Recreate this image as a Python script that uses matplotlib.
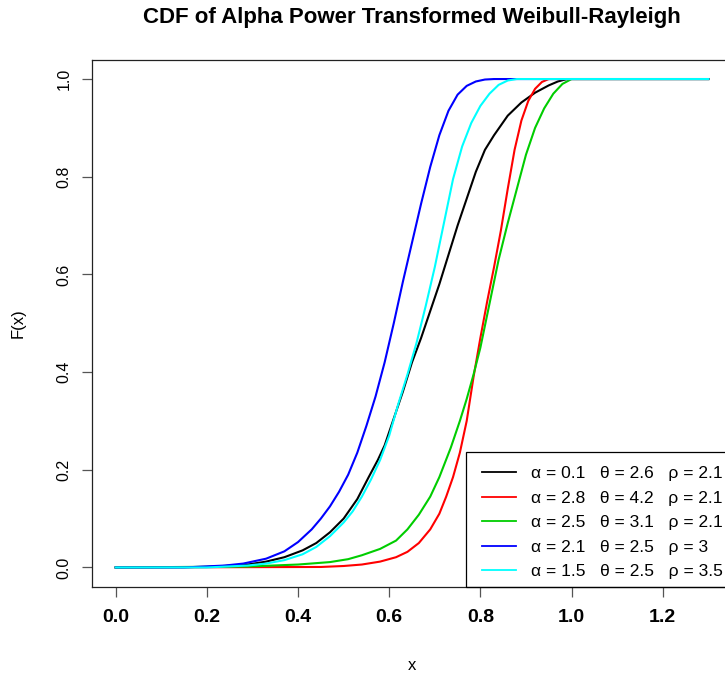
import numpy as np
import matplotlib
matplotlib.use("Agg")
import matplotlib.pyplot as plt
from matplotlib.patches import Rectangle

plt.rcParams['font.family'] = ['Liberation Sans', 'DejaVu Sans']

# values
x_black = [0.0, 0.2, 0.29, 0.33, 0.37, 0.41, 0.44, 0.47, 0.50, 0.53, 0.555, 0.575, 0.59, 0.61, 0.63, 0.65, 0.67, 0.69,
           0.71, 0.73, 0.75, 0.77, 0.79, 0.81, 0.83, 0.86, 0.89, 0.92, 0.95, 0.97, 0.99, 1.3]
f_black = [0.0, 0.001, 0.006, 0.012, 0.021, 0.035, 0.05, 0.072, 0.10, 0.14, 0.185, 0.22, 0.25, 0.305, 0.36, 0.42, 0.47, 0.525,
           0.58, 0.64, 0.70, 0.755, 0.81, 0.855, 0.885, 0.925, 0.952, 0.972, 0.987, 0.995, 1.0, 1.0]

x_red = [0.0, 0.45, 0.50, 0.54, 0.58, 0.615, 0.64, 0.665, 0.69, 0.71, 0.725, 0.74, 0.755, 0.77, 0.785, 0.80, 0.815,
         0.83, 0.845, 0.86, 0.875, 0.89, 0.905, 0.92, 0.935, 0.95, 1.3]
f_red = [0.0, 0.001, 0.003, 0.006, 0.012, 0.021, 0.032, 0.05, 0.078, 0.11, 0.145, 0.185, 0.235, 0.30, 0.39, 0.47, 0.545,
         0.615, 0.69, 0.775, 0.855, 0.915, 0.955, 0.98, 0.994, 1.0, 1.0]

x_green = [0.0, 0.29, 0.40, 0.47, 0.51, 0.54, 0.58, 0.615, 0.64, 0.665, 0.69, 0.71, 0.735, 0.755, 0.77, 0.785, 0.80,
           0.82, 0.84, 0.86, 0.88, 0.90, 0.92, 0.94, 0.96, 0.98, 1.0, 1.3]
f_green = [0.0, 0.002, 0.006, 0.011, 0.017, 0.025, 0.038, 0.055, 0.078, 0.108, 0.145, 0.185, 0.245, 0.30, 0.345, 0.395, 0.45,
           0.54, 0.63, 0.705, 0.775, 0.845, 0.90, 0.94, 0.97, 0.99, 1.0, 1.0]

x_blue = [0.0, 0.15, 0.24, 0.28, 0.33, 0.37, 0.40, 0.43, 0.45, 0.47, 0.49, 0.51, 0.53, 0.55, 0.57, 0.59, 0.61, 0.63,
          0.65, 0.67, 0.69, 0.71, 0.73, 0.75, 0.77, 0.79, 0.81, 0.83, 1.3]
f_blue = [0.0, 0.0, 0.004, 0.008, 0.018, 0.033, 0.052, 0.078, 0.10, 0.125, 0.155, 0.19, 0.235, 0.29, 0.35, 0.42, 0.50, 0.585,
          0.665, 0.745, 0.82, 0.885, 0.935, 0.968, 0.986, 0.995, 0.999, 1.0, 1.0]

x_cyan = [0.0, 0.2, 0.29, 0.33, 0.37, 0.41, 0.44, 0.47, 0.50, 0.52, 0.54, 0.56, 0.58, 0.60, 0.62, 0.64, 0.66, 0.68,
          0.70, 0.72, 0.74, 0.76, 0.78, 0.80, 0.82, 0.84, 0.86, 0.88, 1.3]
f_cyan = [0.0, 0.0, 0.004, 0.008, 0.015, 0.027, 0.042, 0.064, 0.092, 0.115, 0.145, 0.18, 0.22, 0.27, 0.335, 0.395, 0.46, 0.535,
          0.615, 0.705, 0.795, 0.862, 0.91, 0.945, 0.97, 0.988, 0.997, 1.0, 1.0]

labels = [
    "\u03b1 = 0.1   \u03b8 = 2.6   \u03c1 = 2.1",
    "\u03b1 = 2.8   \u03b8 = 4.2   \u03c1 = 2.1",
    "\u03b1 = 2.5   \u03b8 = 3.1   \u03c1 = 2.1",
    "\u03b1 = 2.1   \u03b8 = 2.5   \u03c1 = 3",
    "\u03b1 = 1.5   \u03b8 = 2.5   \u03c1 = 3.5",
]
colors = ['black', 'red', '#00cd00', 'blue', 'cyan']
x_ticks = [0.0, 0.2, 0.4, 0.6, 0.8, 1.0, 1.2]
y_ticks = [0.0, 0.2, 0.4, 0.6, 0.8, 1.0]

W, H = 725, 676
fig = plt.figure(figsize=(W / 100, H / 100), dpi=100)
# axes box runs a little past the right edge, as in the reference
ax = fig.add_axes([92 / W, (H - 587) / H, (732 - 92) / W, (587 - 59.5) / H])

series = [(x_black, f_black), (x_red, f_red), (x_green, f_green), (x_blue, f_blue), (x_cyan, f_cyan)]
for (xs, fs), c, lab in zip(series, colors, labels):
    ax.plot(xs, fs, color=c, lw=1.5, label=lab, solid_joinstyle='round')

ax.set_xlim(-0.052, 1.352)
ax.set_ylim(-0.04, 1.04)
ax.set_xticks(x_ticks)
ax.set_xticklabels([f"{v:.1f}" for v in x_ticks], fontsize=14, fontweight='bold')
ax.set_yticks(y_ticks)
ax.set_yticklabels([f"{v:.1f}" for v in y_ticks], fontsize=11.5, rotation=90, va='center')
ax.tick_params(axis='both', direction='out', length=7.5, width=0.9, color='#555555')
ax.tick_params(axis='x', pad=8)
ax.tick_params(axis='y', pad=7)
for s in ax.spines.values():
    s.set_linewidth(0.9)
    s.set_color('#222222')

# legend entries without frame, frame drawn separately (it runs past the edge)
leg = ax.legend(loc='upper left', bbox_to_anchor=(482 / W, 1 - 466 / H),
                bbox_transform=fig.transFigure, fontsize=12.5, frameon=False,
                borderaxespad=0, borderpad=0, handlelength=1.96,
                handletextpad=0.86, labelspacing=0.54)
for line in leg.get_lines():
    line.set_linewidth(1.3)
fig.patches.append(Rectangle((466 / W, (H - 587) / H), (760 - 466) / W, (587 - 452) / H,
                             transform=fig.transFigure, fill=False,
                             edgecolor='black', linewidth=0.9, zorder=5))

fig.text(412 / W, 1 - 17 / H, "CDF of Alpha Power Transformed Weibull-Rayleigh",
         ha='center', va='center', fontsize=16, fontweight='bold')
fig.text(412 / W, 1 - 665 / H, "x", ha='center', va='center', fontsize=12)
fig.text(18 / W, 1 - 323 / H, "F(x)", ha='center', va='center', fontsize=12, rotation=90)

fig.savefig("out.png", dpi=100)
